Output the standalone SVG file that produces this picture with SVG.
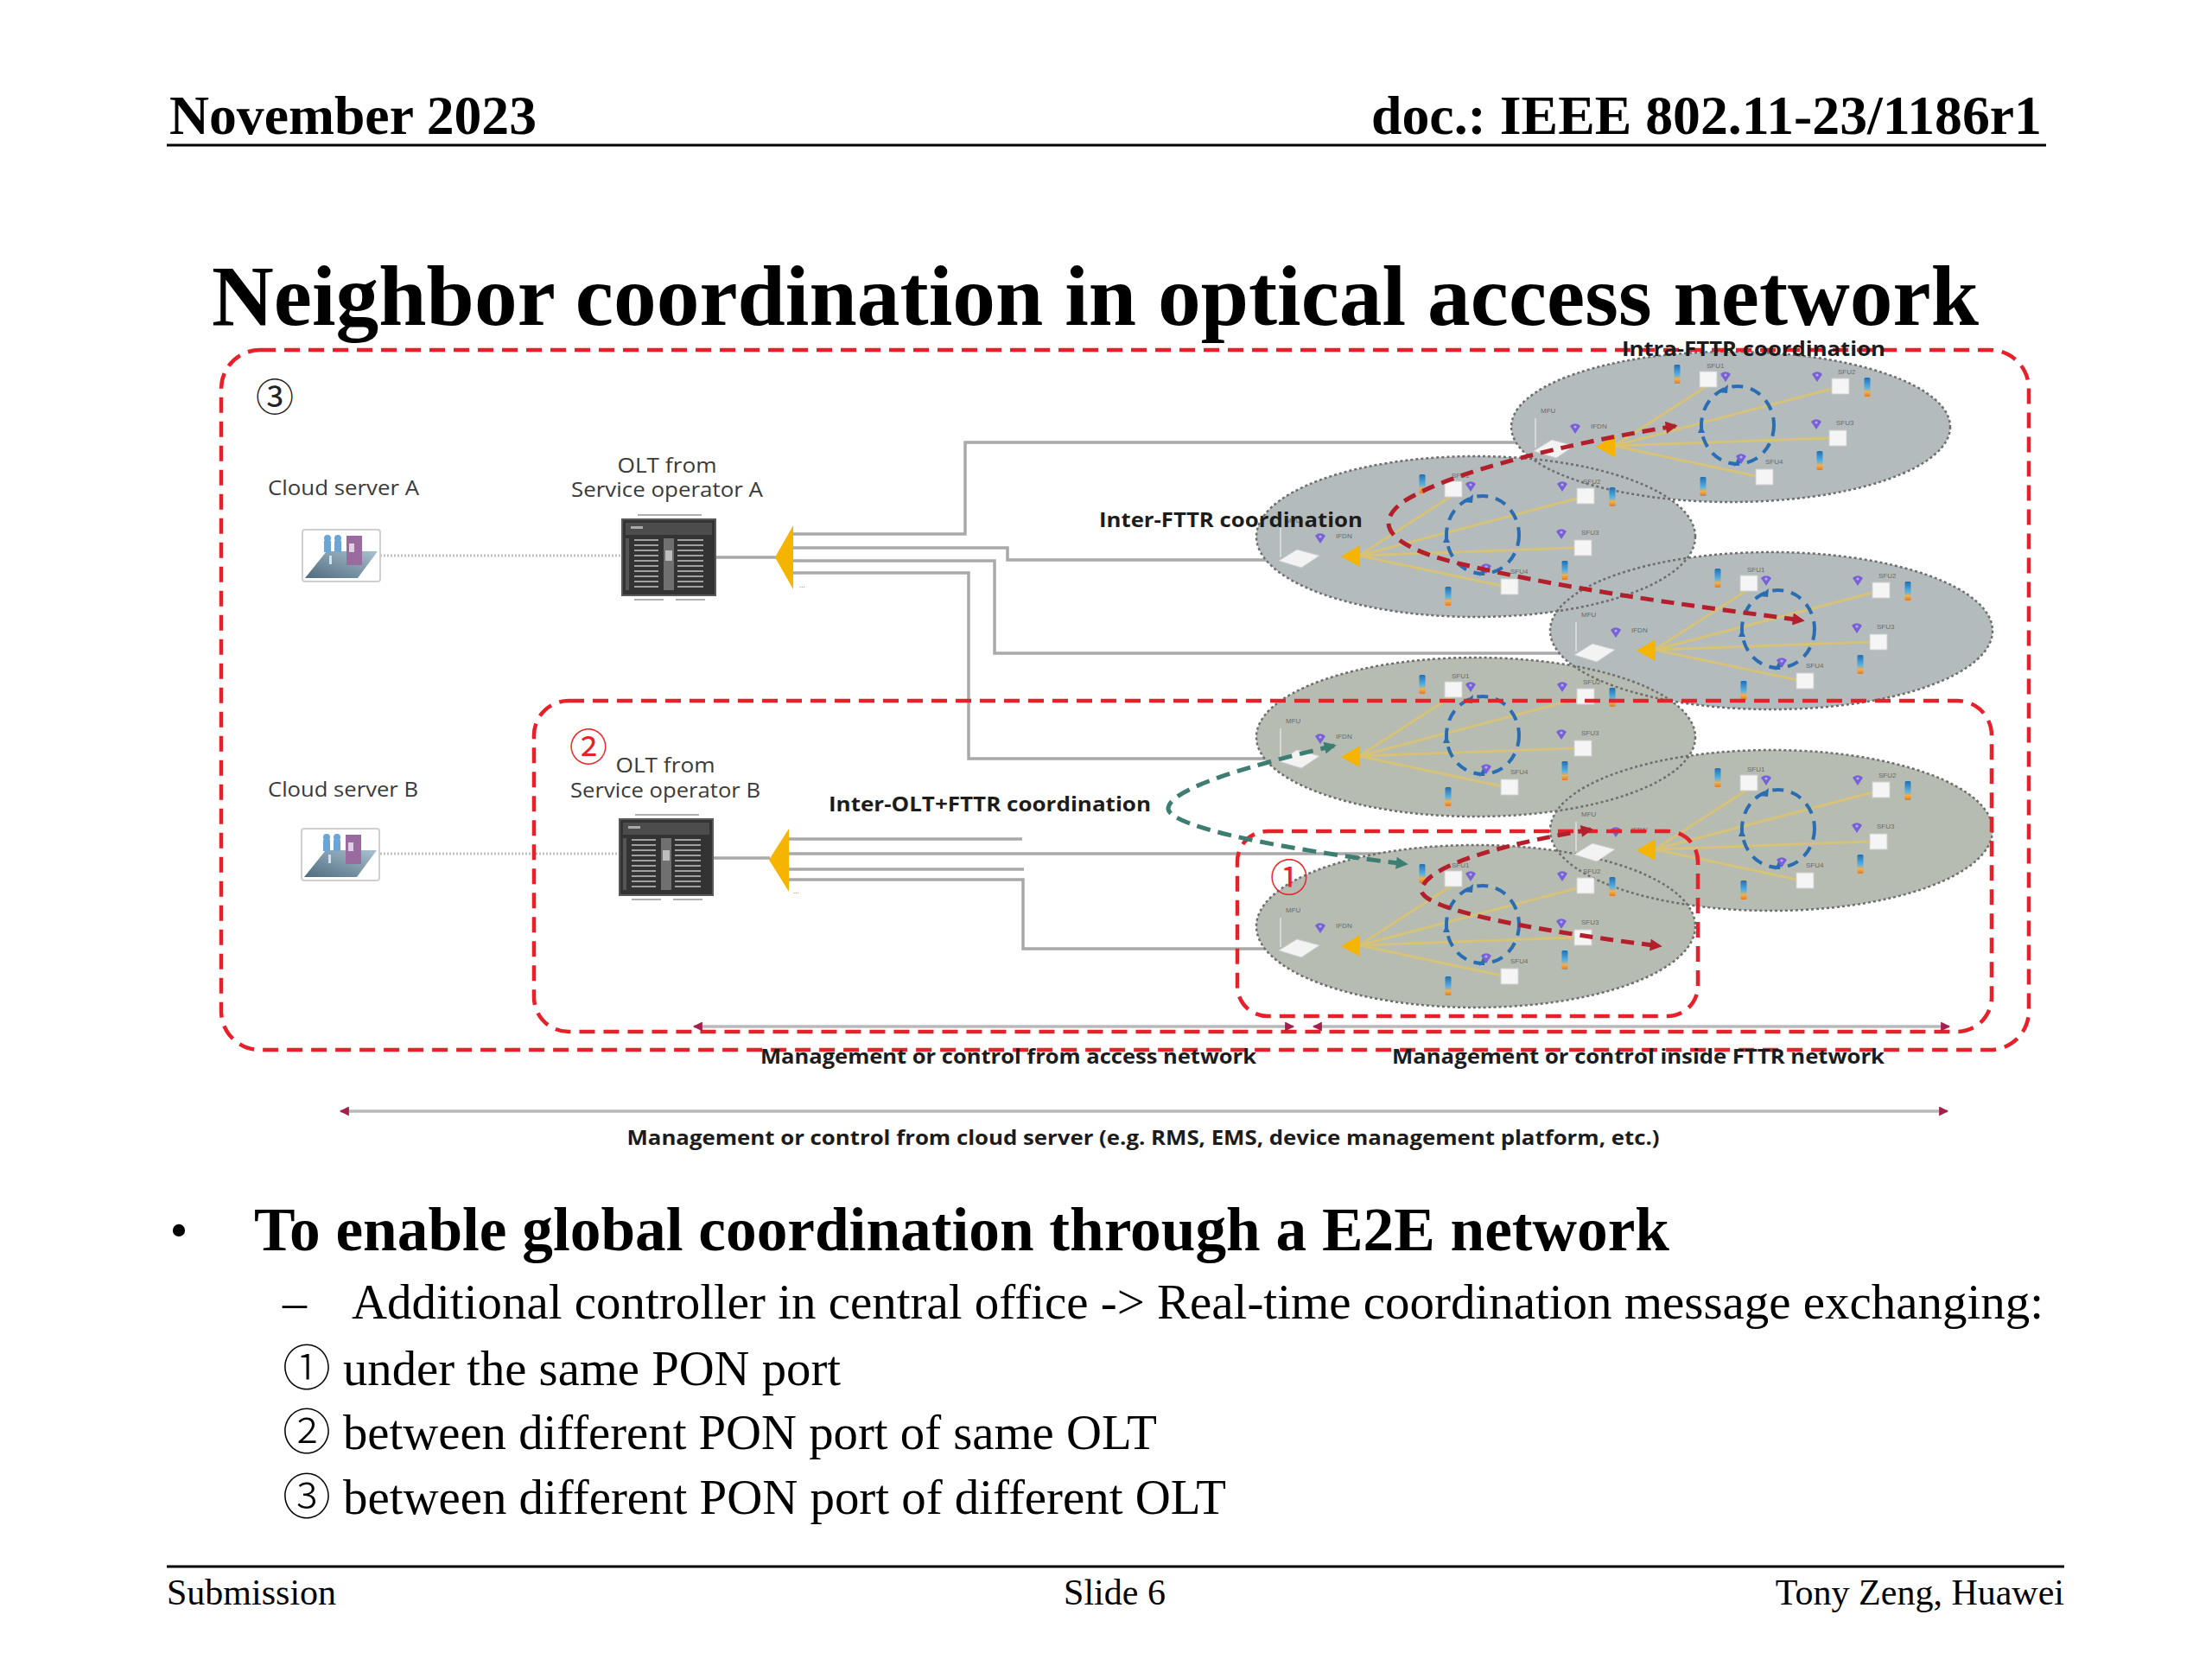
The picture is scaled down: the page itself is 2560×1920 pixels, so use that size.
<svg xmlns="http://www.w3.org/2000/svg" xmlns:xlink="http://www.w3.org/1999/xlink" width="2560" height="1920" viewBox="0 0 2560 1920">
<style>
.serif{font-family:"Liberation Serif","Times New Roman",serif;fill:#000}
.cjk{font-family:"Noto Sans CJK SC","Noto Sans CJK JP",sans-serif}
.lbl{font-family:"Open Sans","Liberation Sans",sans-serif;font-size:24px;fill:#3a3a3a}
.blbl{font-family:"Open Sans","Liberation Sans",sans-serif;font-size:24px;font-weight:bold;fill:#1c1c1c}
.tiny{font-family:"Liberation Sans",sans-serif;font-size:8px;fill:#6a6a6a}
.conn{fill:none;stroke:#a9a9a9;stroke-width:3.5}
.dot{fill:none;stroke:#c0c0c0;stroke-width:3;stroke-dasharray:2 2}
.box{fill:none;stroke:#e8202a;stroke-width:4.5;stroke-dasharray:18 10}
.ell{stroke:none}
.ellb{fill:none;stroke:#6e6e6e;stroke-width:2.5;stroke-dasharray:3 3}
.redc{fill:none;stroke:#b3202c;stroke-width:5;stroke-dasharray:15 9}
.teal{fill:none;stroke:#3d7d72;stroke-width:5;stroke-dasharray:16 9}
.mgmt{fill:none;stroke:#b9b9b9;stroke-width:3.5}
</style>
<defs>
<linearGradient id="ph" x1="0" y1="0" x2="0" y2="1">
<stop offset="0" stop-color="#1f6fb5"/><stop offset="0.55" stop-color="#5ab3e4"/><stop offset="0.75" stop-color="#f3b04a"/><stop offset="1" stop-color="#e07a2a"/>
</linearGradient>
<linearGradient id="plat" x1="0" y1="1" x2="1" y2="0">
<stop offset="0" stop-color="#4f6c7e"/><stop offset="1" stop-color="#a9c1cf"/>
</linearGradient>
<marker id="mRed" viewBox="0 0 10 10" refX="8" refY="5" markerWidth="18" markerHeight="14" markerUnits="userSpaceOnUse" orient="auto-start-reverse">
<path d="M0,0 L10,5 L0,10 Z" fill="#b3202c"/>
</marker>
<marker id="mTeal" viewBox="0 0 10 10" refX="8" refY="5" markerWidth="18" markerHeight="14" markerUnits="userSpaceOnUse" orient="auto-start-reverse">
<path d="M0,0 L10,5 L0,10 Z" fill="#3d7d72"/>
</marker>
<marker id="mM" viewBox="0 0 10 10" refX="9" refY="5" markerWidth="12" markerHeight="11" markerUnits="userSpaceOnUse" orient="auto-start-reverse">
<path d="M0,0 L10,5 L0,10 Z" fill="#a51f4c"/>
</marker>
<g id="wifi"><path d="M-6,-4 A8,8 0 0 1 6,-4 L0,5 Z" fill="#7760d8"/><circle cx="0" cy="-3" r="1.6" fill="#b9adf0"/></g>
<g id="phone"><rect x="-3.5" y="0" width="7" height="22" rx="1.5" fill="url(#ph)"/></g>
<g id="sfu"><rect x="0" y="0" width="20" height="18" fill="#f5f5f5" stroke="#d0d0d0" stroke-width="1"/></g>
<g id="fttr">
<g stroke="#d6c278" stroke-width="3" fill="none">
<line x1="-135" y1="22" x2="-28" y2="-47"/>
<line x1="-135" y1="22" x2="117" y2="-44"/>
<line x1="-135" y1="22" x2="114" y2="13"/>
<line x1="-135" y1="22" x2="30" y2="57"/>
</g>
<ellipse cx="8" cy="-2" rx="42" ry="45" fill="none" stroke="#2a6db2" stroke-width="4" stroke-dasharray="13 9"/>
<path d="M-14,-40 l11,-9 l-1,10 z" fill="#2a6db2"/>
<path d="M-34,-2 l-4,9 l8,0 z" fill="#2a6db2"/>
<path d="M14,40 l-10,6 l4,-10 z" fill="#2a6db2"/>
<line x1="-226" y1="-10" x2="-226" y2="24" stroke="#e2e2e2" stroke-width="1.5"/>
<polygon points="-228,28 -207,15 -181,22 -202,36" fill="#f3f3f3" stroke="#cfcfcf" stroke-width="1"/>
<use xlink:href="#wifi" x="-180" y="3"/>
<text class="tiny" x="-220" y="-16">MFU</text>
<text class="tiny" x="-162" y="2">IFDN</text>
<polygon points="-156,23 -134,10 -134,35" fill="#f4b400"/>
<use xlink:href="#sfu" x="-36" y="-64"/>
<use xlink:href="#sfu" x="117" y="-56"/>
<use xlink:href="#sfu" x="114" y="4"/>
<use xlink:href="#sfu" x="29" y="49"/>
<text class="tiny" x="-28" y="-68">SFU1</text>
<text class="tiny" x="124" y="-61">SFU2</text>
<text class="tiny" x="122" y="-2">SFU3</text>
<text class="tiny" x="40" y="43">SFU4</text>
<use xlink:href="#wifi" x="-6" y="-57"/>
<use xlink:href="#wifi" x="100" y="-57"/>
<use xlink:href="#wifi" x="99" y="-2"/>
<use xlink:href="#wifi" x="12" y="38"/>
<use xlink:href="#phone" x="-62" y="-72"/>
<use xlink:href="#phone" x="158" y="-57"/>
<use xlink:href="#phone" x="103" y="28"/>
<use xlink:href="#phone" x="-32" y="58"/>
</g>
<g id="olt">
<line x1="18" y1="-5" x2="92" y2="-5" stroke="#b0b0b0" stroke-width="2"/>
<rect x="0" y="0" width="108" height="88" fill="#333" stroke="#595959" stroke-width="2"/>
<rect x="4" y="4" width="100" height="14" fill="#4c4c4c"/>
<rect x="10" y="8" width="14" height="3" fill="#aaa"/>
<g stroke="#a0a0a0" stroke-width="2">
<path d="M14,24 h28 M14,30 h28 M14,36 h28 M14,42 h28 M14,48 h28 M14,54 h28 M14,60 h28 M14,66 h28 M14,72 h28 M14,78 h28"/>
<path d="M64,24 h30 M64,30 h30 M64,36 h30 M64,42 h30 M64,48 h30 M64,54 h30 M64,60 h30 M64,66 h30 M64,72 h30 M64,78 h30"/>
</g>
<rect x="48" y="22" width="12" height="60" fill="#707070"/>
<rect x="50" y="36" width="8" height="12" fill="#bdbdbd"/>
<rect x="4" y="22" width="4" height="60" fill="#555"/>
<line x1="14" y1="93" x2="48" y2="93" stroke="#b0b0b0" stroke-width="2"/>
<line x1="62" y1="93" x2="96" y2="93" stroke="#b0b0b0" stroke-width="2"/>
</g>
<g id="cloud">
<rect x="0" y="0" width="90" height="60" rx="3" fill="#ffffff" stroke="#cfcfcf" stroke-width="2"/>
<polygon points="28,25 87,25 64,56 3,56" fill="url(#plat)"/>
<rect x="51" y="7" width="18" height="34" fill="#9a6b9e"/>
<rect x="54" y="16" width="6" height="10" fill="#e0d0e4"/>
<g fill="#6aa5d8"><circle cx="29" cy="10" r="4"/><rect x="25" y="13" width="8" height="13"/><circle cx="41" cy="10" r="4"/><rect x="37" y="13" width="8" height="13"/></g>
<rect x="31" y="30" width="3" height="10" fill="#cfe3f2"/>
</g>
</defs>
<rect width="2560" height="1920" fill="#ffffff"/>
<g id="header">
<text class="serif" x="196" y="155" font-size="64" font-weight="bold" textLength="425" lengthAdjust="spacingAndGlyphs">November 2023</text>
<text class="serif" x="2363" y="155" font-size="64" font-weight="bold" text-anchor="end" textLength="776" lengthAdjust="spacingAndGlyphs">doc.: IEEE 802.11-23/1186r1</text>
<line x1="193" y1="168" x2="2368" y2="168" stroke="#000" stroke-width="3"/>
<text class="serif" x="245" y="376" font-size="100" font-weight="bold" textLength="2045" lengthAdjust="spacingAndGlyphs">Neighbor coordination in optical access network</text>
</g>
<g id="connectors">
<path class="dot" d="M440,643 H720"/>
<path class="dot" d="M440,988 H718"/>
<path class="conn" d="M828,645 H898"/>
<path class="conn" d="M826,993 H891"/>
<path class="conn" d="M918,618 H1117 V512 H1790"/>
<path class="conn" d="M918,634 H1166 V648 H1500"/>
<path class="conn" d="M918,649 H1151 V756 H1840"/>
<path class="conn" d="M918,663 H1121 V878 H1500"/>
<path class="conn" d="M912,971 H1183"/>
<path class="conn" d="M912,988 H1840"/>
<path class="conn" d="M912,1006 H1185"/>
<path class="conn" d="M912,1018 H1184 V1098 H1500"/>
</g>
<g id="cloud-server-a">
<use xlink:href="#cloud" x="350" y="613"/>
<text class="lbl" x="310" y="573" textLength="175" lengthAdjust="spacingAndGlyphs">Cloud server A</text>
</g>
<g id="cloud-server-b">
<use xlink:href="#cloud" x="349" y="959"/>
<text class="lbl" x="310" y="922" textLength="174" lengthAdjust="spacingAndGlyphs">Cloud server B</text>
</g>
<g id="olt-a">
<use xlink:href="#olt" x="720" y="601"/>
<text class="lbl" x="772" y="547" text-anchor="middle" textLength="115" lengthAdjust="spacingAndGlyphs">OLT from</text>
<text class="lbl" x="772" y="575" text-anchor="middle" textLength="222" lengthAdjust="spacingAndGlyphs">Service operator A</text>
</g>
<g id="olt-b">
<use xlink:href="#olt" x="717" y="948"/>
<text class="lbl" x="770" y="894" text-anchor="middle" textLength="115" lengthAdjust="spacingAndGlyphs">OLT from</text>
<text class="lbl" x="770" y="923" text-anchor="middle" textLength="220" lengthAdjust="spacingAndGlyphs">Service operator B</text>
</g>
<g id="splitter-a">
<polygon points="897,645 918,608 918,682" fill="#f4b400"/>
<text class="tiny" x="925" y="680" font-size="12">...</text>
</g>
<g id="splitter-b">
<polygon points="890,995 913,959 913,1032" fill="#f4b400"/>
<text class="tiny" x="918" y="1034" font-size="12">...</text>
</g>
<g id="fttr-networks">
<g id="fttr-fills">
<ellipse class="ell" cx="2003" cy="494" rx="254" ry="87" fill="#b3bbbc"/>
<ellipse class="ell" cx="1708" cy="621" rx="254" ry="93" fill="#b3bbbc"/>
<ellipse class="ell" cx="2050" cy="730" rx="256" ry="91" fill="#b3bbbc"/>
<ellipse class="ell" cx="1708" cy="853" rx="254" ry="92" fill="#b6bcb2"/>
<ellipse class="ell" cx="2050" cy="961" rx="256" ry="93" fill="#b6bcb2"/>
<ellipse class="ell" cx="1708" cy="1072" rx="254" ry="94" fill="#b6bcb2"/>
</g>
<g id="fttr-borders">
<ellipse class="ellb" cx="2003" cy="494" rx="254" ry="87"/>
<ellipse class="ellb" cx="1708" cy="621" rx="254" ry="93"/>
<ellipse class="ellb" cx="2050" cy="730" rx="256" ry="91"/>
<ellipse class="ellb" cx="1708" cy="853" rx="254" ry="92"/>
<ellipse class="ellb" cx="2050" cy="961" rx="256" ry="93"/>
<ellipse class="ellb" cx="1708" cy="1072" rx="254" ry="94"/>
</g>
<g id="fttr-1"><use xlink:href="#fttr" x="2003" y="494"/></g>
<g id="fttr-2"><use xlink:href="#fttr" x="1708" y="621"/></g>
<g id="fttr-3"><use xlink:href="#fttr" x="2050" y="730"/></g>
<g id="fttr-4"><use xlink:href="#fttr" x="1708" y="853"/></g>
<g id="fttr-5"><use xlink:href="#fttr" x="2050" y="961"/></g>
<g id="fttr-6"><use xlink:href="#fttr" x="1708" y="1072"/></g>
</g>
<g id="scope-boxes">
<rect class="box" x="256" y="405" width="2092" height="810" rx="45"/>
<rect class="box" x="618" y="811" width="1687" height="383" rx="40"/>
<rect class="box" x="1432" y="962" width="533" height="214" rx="35"/>
<text class="cjk" x="318" y="476" font-size="44" text-anchor="middle" fill="#222">③</text>
<text class="cjk" x="681" y="881" font-size="44" text-anchor="middle" fill="#e8202a">②</text>
<text class="cjk" x="1492" y="1032" font-size="44" text-anchor="middle" fill="#e8202a">①</text>
</g>
<g id="coordination">
<path class="redc" d="M1939,493 C1820,512 1680,545 1625,580 C1590,605 1605,630 1680,650 C1820,685 1990,705 2086,718" marker-start="url(#mRed)" marker-end="url(#mRed)"/>
<path class="redc" d="M1841,960 C1750,975 1650,1000 1645,1030 C1645,1055 1800,1080 1921,1095" marker-start="url(#mRed)" marker-end="url(#mRed)"/>
<path class="teal" d="M1544,863 C1450,885 1355,912 1352,935 C1350,958 1500,985 1627,1000" marker-start="url(#mTeal)" marker-end="url(#mTeal)"/>
<text class="blbl" x="1877" y="412" textLength="305" lengthAdjust="spacingAndGlyphs">Intra-FTTR coordination</text>
<text class="blbl" x="1272" y="610" textLength="305" lengthAdjust="spacingAndGlyphs">Inter-FTTR coordination</text>
<text class="blbl" x="959" y="939" textLength="373" lengthAdjust="spacingAndGlyphs">Inter-OLT+FTTR coordination</text>
</g>
<g id="management">
<path class="mgmt" d="M803,1188 H1497" marker-start="url(#mM)" marker-end="url(#mM)"/>
<path class="mgmt" d="M1520,1188 H2256" marker-start="url(#mM)" marker-end="url(#mM)"/>
<path class="mgmt" d="M394,1286 H2254" marker-start="url(#mM)" marker-end="url(#mM)"/>
<text class="blbl" x="1167" y="1231" font-size="23" text-anchor="middle" textLength="574" lengthAdjust="spacingAndGlyphs">Management or control from access network</text>
<text class="blbl" x="1896" y="1231" font-size="23" text-anchor="middle" textLength="570" lengthAdjust="spacingAndGlyphs">Management or control inside FTTR network</text>
<text class="blbl" x="1323" y="1325" font-size="23" text-anchor="middle" textLength="1195" lengthAdjust="spacingAndGlyphs">Management or control from cloud server (e.g. RMS, EMS, device management platform, etc.)</text>
</g>
<g id="bullets">
<text class="serif" x="207" y="1444" font-size="60" text-anchor="middle">•</text>
<text class="serif" x="294" y="1447" font-size="72" font-weight="bold" textLength="1638" lengthAdjust="spacingAndGlyphs">To enable global coordination through a E2E network</text>
<text class="serif" x="327" y="1526" font-size="56">–</text>
<text class="serif" x="407" y="1526" font-size="56" textLength="1958" lengthAdjust="spacingAndGlyphs">Additional controller in central office -&gt; Real-time coordination message exchanging:</text>
<text class="serif" y="1603" font-size="56"><tspan class="cjk" x="327" font-weight="200">①</tspan><tspan x="397" textLength="576" lengthAdjust="spacingAndGlyphs">under the same PON port</tspan></text>
<text class="serif" y="1677" font-size="56"><tspan class="cjk" x="327" font-weight="200">②</tspan><tspan x="397" textLength="942" lengthAdjust="spacingAndGlyphs">between different PON port of same OLT</tspan></text>
<text class="serif" y="1752" font-size="56"><tspan class="cjk" x="327" font-weight="200">③</tspan><tspan x="397" textLength="1022" lengthAdjust="spacingAndGlyphs">between different PON port of different OLT</tspan></text>
</g>
<g id="footer">
<line x1="193" y1="1813" x2="2389" y2="1813" stroke="#000" stroke-width="3"/>
<text class="serif" x="193" y="1857" font-size="42">Submission</text>
<text class="serif" x="1290" y="1857" font-size="42" text-anchor="middle">Slide 6</text>
<text class="serif" x="2389" y="1857" font-size="42" text-anchor="end">Tony Zeng, Huawei</text>
</g>
</svg>
